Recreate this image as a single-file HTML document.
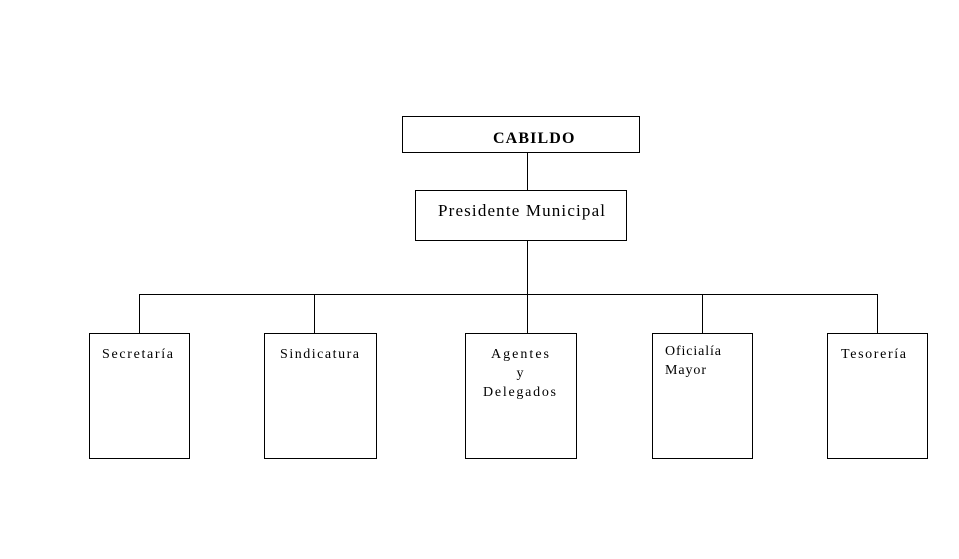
<!DOCTYPE html>
<html><head><meta charset="utf-8"><style>body{margin:0;background:#fff}svg{display:block}</style></head>
<body>
<svg width="959" height="559" xmlns="http://www.w3.org/2000/svg" font-family="Liberation Serif, serif" fill="#000">
<g stroke="#000" stroke-width="1" fill="none" shape-rendering="crispEdges">
<rect x="402.5" y="116.5" width="237" height="36"/>
<rect x="415.5" y="190.5" width="211" height="50"/>
<line x1="527.5" y1="152" x2="527.5" y2="190"/>
<line x1="527.5" y1="240" x2="527.5" y2="333"/>
<line x1="139" y1="294.5" x2="878" y2="294.5"/>
<line x1="139.5" y1="294" x2="139.5" y2="333"/>
<line x1="314.5" y1="294" x2="314.5" y2="333"/>
<line x1="702.5" y1="294" x2="702.5" y2="333"/>
<line x1="877.5" y1="294" x2="877.5" y2="333"/>
<rect x="89.5" y="333.5" width="100" height="125"/>
<rect x="264.5" y="333.5" width="112" height="125"/>
<rect x="465.5" y="333.5" width="111" height="125"/>
<rect x="652.5" y="333.5" width="100" height="125"/>
<rect x="827.5" y="333.5" width="100" height="125"/>
</g>
<text x="534" y="143" font-size="16" font-weight="bold" text-anchor="middle" letter-spacing="0.6" textLength="82" lengthAdjust="spacing">CABILDO</text>
<text x="438" y="216" font-size="17" textLength="167" lengthAdjust="spacing">Presidente Municipal</text>
<g font-size="14">
<text x="102" y="358" textLength="71" lengthAdjust="spacing">Secretaría</text>
<text x="280" y="358" textLength="79" lengthAdjust="spacing">Sindicatura</text>
<text x="491" y="358" textLength="58" lengthAdjust="spacing">Agentes</text>
<text x="520" y="377" text-anchor="middle">y</text>
<text x="483" y="396" textLength="73" lengthAdjust="spacing">Delegados</text>
<text x="665" y="355" textLength="56" lengthAdjust="spacing">Oficialía</text>
<text x="665" y="374" textLength="41" lengthAdjust="spacing">Mayor</text>
<text x="841" y="358" textLength="65" lengthAdjust="spacing">Tesorería</text>
</g>
</svg>
</body></html>
